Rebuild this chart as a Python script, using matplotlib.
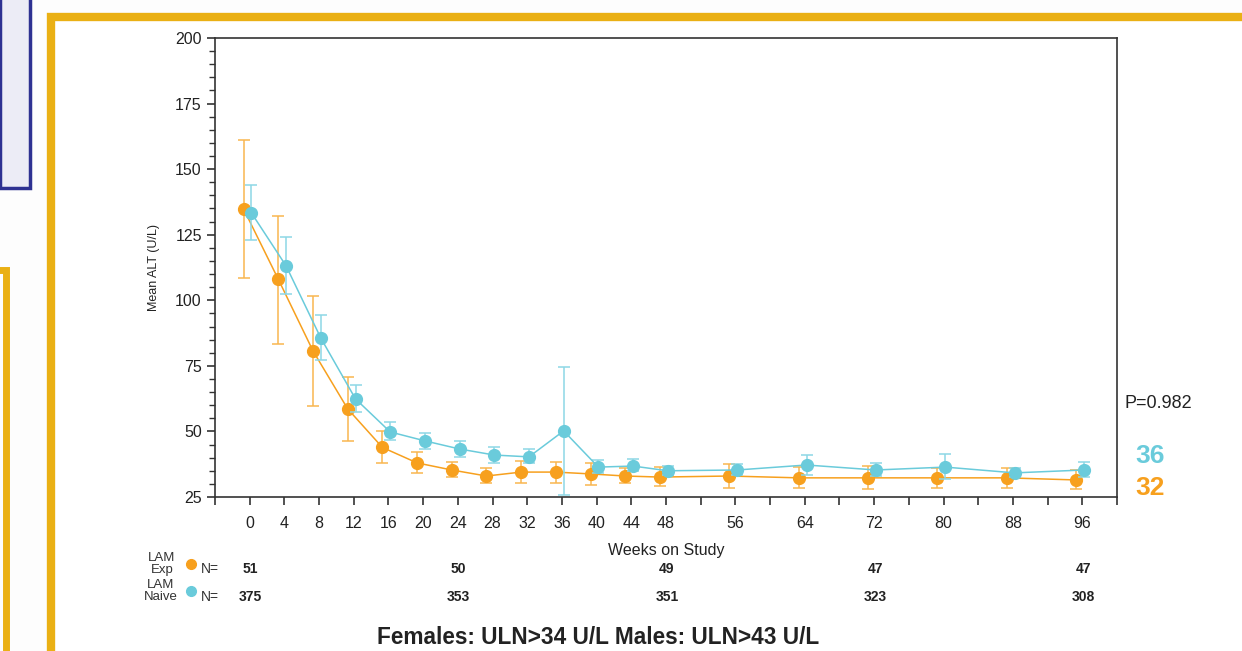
import matplotlib
matplotlib.use('Agg')
import matplotlib.pyplot as plt
from matplotlib.patches import Rectangle
import matplotlib.transforms as mtransforms
import numpy as np

plt.rcParams['font.family'] = ['Liberation Sans', 'DejaVu Sans']

# data
weeks = [0, 4, 8, 12, 16, 20, 24, 28, 32, 36, 40, 44, 48, 56, 64, 72, 80, 88, 96]
exp_mean = [134.8, 108.0, 80.7, 58.6, 43.9, 38.0, 35.3, 33.0, 34.5, 34.5, 33.8, 33.0, 32.6,
            33.0, 32.3, 32.3, 32.3, 32.3, 31.5]
exp_hi = [161.0, 132.2, 101.6, 70.8, 50.2, 42.2, 38.4, 36.1, 38.7, 38.4, 38.0, 36.1, 36.5,
          37.6, 36.5, 36.8, 36.1, 36.1, 35.3]
exp_lo = [108.5, 83.3, 59.7, 46.4, 38.0, 34.2, 32.6, 30.3, 30.3, 30.3, 29.6, 30.3, 29.2,
          28.4, 28.4, 28.1, 28.4, 28.4, 28.1]
naive_mean = [133.3, 113.1, 85.6, 62.4, 49.8, 46.4, 43.3, 41.0, 40.3, 50.2, 36.4, 36.8, 35.0,
              35.3, 37.2, 35.3, 36.4, 34.2, 35.3]
naive_hi = [144.0, 124.0, 94.4, 67.7, 53.6, 49.4, 46.4, 44.1, 43.3, 74.6, 39.1, 39.5, 36.8,
            37.6, 41.0, 38.0, 41.4, 36.1, 38.4]
naive_lo = [123.0, 102.4, 77.2, 57.4, 46.7, 43.3, 40.3, 38.0, 38.0, 25.8, 34.2, 35.0, 33.4,
            33.4, 33.4, 33.0, 31.9, 32.6, 32.6]

n_weeks = [0, 24, 48, 72, 96]
n_exp = ['51', '50', '49', '47', '47']
n_naive = ['375', '353', '351', '323', '308']

xtick_labels = [0, 4, 8, 12, 16, 20, 24, 28, 32, 36, 40, 44, 48, 56, 64, 72, 80, 88, 96]

orange = '#F7A01E'
cyan = '#6ACBDB'
gold = '#EAB014'
navy = '#2E3192'

W, H = 1242, 651
fig = plt.figure(figsize=(W / 100, H / 100), dpi=100)
fig.patch.set_facecolor('#FDFDFD')

def px(x0, y0, w, h, **kw):
    # rectangle in pixel coordinates (top-left origin)
    fig.patches.append(Rectangle((x0 / W, 1 - (y0 + h) / H), w / W, h / H,
                                 transform=fig.transFigure, figure=fig, zorder=-5, **kw))

# slide decorations
px(0, -5, 30, 193, facecolor='#ECECF6', edgecolor=navy, linewidth=2.5)
px(-10, 270, 16, 400, facecolor='none', edgecolor=gold, linewidth=5)
px(51, 17, 1200, 650, facecolor='white', edgecolor=gold, linewidth=6)

ax = fig.add_axes([215 / W, 1 - 497 / H, (1117 - 215) / W, (497 - 38) / H])
ax.set_xlim(-4, 100)
ax.set_ylim(25, 200)

w = np.array(weeks, dtype=float)
ex = np.array(exp_mean)
nv = np.array(naive_mean)
ax.errorbar(w - 0.7, ex, yerr=[ex - np.array(exp_lo), np.array(exp_hi) - ex],
            color=orange, ecolor='#F9B650', elinewidth=1.1, capsize=4, capthick=1.1,
            marker='o', markersize=8.5, linewidth=1.1, zorder=3)
ax.errorbar(w + 0.2, nv, yerr=[nv - np.array(naive_lo), np.array(naive_hi) - nv],
            color=cyan, ecolor='#8DD7E5', elinewidth=1.1, capsize=4, capthick=1.1,
            marker='o', markersize=8.5, linewidth=1.1, zorder=4)

ax.set_xticks(np.arange(-4, 101, 4))
ax.set_xticklabels([str(t) if t in xtick_labels else '' for t in range(-4, 101, 4)])
ax.set_yticks(np.arange(25, 201, 25))
ax.set_yticks(np.arange(25, 201, 5), minor=True)
ax.tick_params(axis='both', direction='out', length=6, width=1.2, colors='#333333',
               labelsize=11.5, labelcolor='#222222')
ax.tick_params(axis='y', which='minor', length=4, width=1.0, colors='#333333')
ax.tick_params(axis='x', pad=8)
for s in ax.spines.values():
    s.set_color('#333333')
    s.set_linewidth(1.2)

ax.set_ylabel('Mean ALT (U/L)', fontsize=9, color='#222222', labelpad=11)
ax.set_xlabel('Weeks on Study', fontsize=11.5, color='#222222', labelpad=8)

# N table under the axis
tr = mtransforms.blended_transform_factory(ax.transData, fig.transFigure)
def fy(y):
    return 1 - y / H

for wk, a, b in zip(n_weeks, n_exp, n_naive):
    ax.text(wk + 0.1, fy(569), a, transform=tr, ha='center', va='center',
            fontsize=10, fontweight='bold', color='#222222')
    ax.text(wk + 0.1, fy(597), b, transform=tr, ha='center', va='center',
            fontsize=10, fontweight='bold', color='#222222')

fig.text(162 / W, fy(564), 'LAM\nExp', ha='center', va='center', fontsize=9.5,
         color='#333333', linespacing=0.95)
fig.text(161 / W, fy(591), 'LAM\nNaive', ha='center', va='center', fontsize=9.5,
         color='#333333', linespacing=0.95)
fig.text(201 / W, fy(569), 'N=', ha='left', va='center', fontsize=10, color='#333333')
fig.text(201 / W, fy(597), 'N=', ha='left', va='center', fontsize=10, color='#333333')
fig.add_artist(plt.Line2D([191 / W], [fy(564)], marker='o', markersize=7, color=orange,
                          transform=fig.transFigure))
fig.add_artist(plt.Line2D([191 / W], [fy(591)], marker='o', markersize=7, color=cyan,
                          transform=fig.transFigure))

# right side annotations
fig.text(1124 / W, fy(404), 'P=0.982', ha='left', va='center', fontsize=13, color='#222222')
fig.text(1135 / W, fy(456), '36', ha='left', va='center', fontsize=19, fontweight='bold',
         color=cyan)
fig.text(1135 / W, fy(488), '32', ha='left', va='center', fontsize=19, fontweight='bold',
         color=orange)

fig.text(598 / W, fy(637), 'Females: ULN>34 U/L Males: ULN>43 U/L', ha='center',
         va='center', fontsize=16.3, fontweight='bold', color='#222222')

fig.savefig('out.png', dpi=100, facecolor=fig.get_facecolor())
